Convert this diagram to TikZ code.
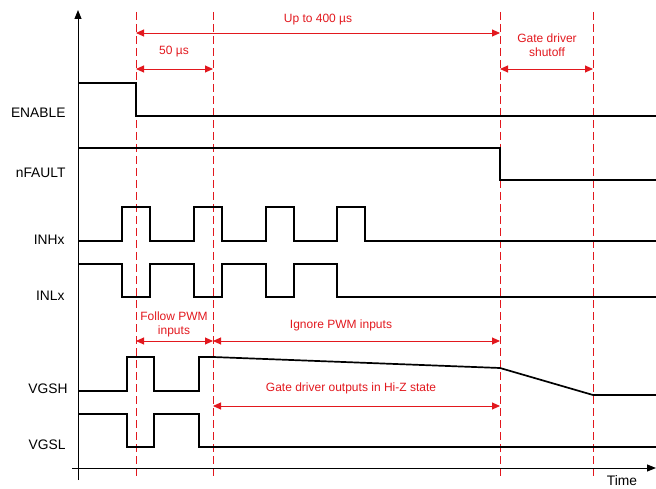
\documentclass[tikz,border=0pt]{standalone}
\usepackage{fontspec}
\setmainfont{Liberation Sans}
\usetikzlibrary{arrows.meta}
\definecolor{tired}{RGB}{226,24,30}
\tikzset{
  sig/.style  ={line width=1.7pt, black},
  axis/.style ={-{Triangle[length=9pt, width=7pt]}, line width=1pt, black},
  tline/.style={tired, line width=0.9pt, dash pattern=on 8pt off 4pt},
  span/.style ={{Triangle[length=8pt, width=7pt]}-{Triangle[length=8pt, width=7pt]}, tired, line width=0.9pt},
  lab/.style  ={anchor=east, font=\fontsize{13.8}{16}\selectfont},
  note/.style ={text=tired, align=center, font=\fontsize{12}{14}\selectfont, inner sep=1pt},
}

\begin{document}
\begin{tikzpicture}[x=1pt, y=-1pt]
  \useasboundingbox (0,0) rectangle (656,489);
  % time marks
  \foreach \n/\x in {ta/136, tb/213, tc/500, td/593} {
    \coordinate (\n) at (\x,0);
  }
  \foreach \n in {ta,tb,tc,td}
    \draw[tline] (\n |- 0,12) -- (\n |- 0,476);
  % axes
  \draw[axis] (78,480) -- (78,10);
  \draw[axis] (72,468) -- (656,468);
  \node[font=\fontsize{13.8}{16}\selectfont, inner sep=1pt] (time) at (622,481) {Time};
  % labels
  \node[lab] (en)  at (69,113) {ENABLE};
  \node[lab] (nf)  at (69,173) {nFAULT};
  \node[lab] (inh) at (68,240) {INHx};
  \node[lab] (inl) at (68,296) {INLx};
  \node[lab] (vh)  at (71,389) {VGSH};
  \node[lab] (vl)  at (69,445) {VGSL};
  % waveforms
  \draw[sig] (78,83) -- (136,83) -- (136,116) -- (656,116);
  \draw[sig] (78,148) -- (500,148) -- (500,180) -- (656,180);
  \draw[sig] (78,241) foreach \a in {122,194,266,337} {
      -- (\a,241) -- (\a,207) -- ({\a+28},207) -- ({\a+28},241)} -- (656,241);
  \draw[sig] (78,264) foreach \a in {122,194,266} {
      -- (\a,264) -- (\a,297) -- ({\a+28},297) -- ({\a+28},264)}
      -- (337,264) -- (337,297) -- (656,297);
  \draw[sig] (78,391) -- (127,391) -- (127,357) -- (154,357) -- (154,391)
      -- (199,391) -- (199,357) -- (213,357) -- (500,368) -- (593,395) -- (656,395);
  \draw[sig] (78,414) -- (127,414) -- (127,447) -- (154,447) -- (154,414)
      -- (199,414) -- (199,447) -- (656,447);
  % spans
  \coordinate (a1) at (ta |- 0,33);  \coordinate (c1) at (tc |- 0,33);
  \coordinate (a2) at (ta |- 0,69);  \coordinate (b2) at (tb |- 0,69);
  \coordinate (c2) at (tc |- 0,69);  \coordinate (d2) at (td |- 0,69);
  \coordinate (a3) at (ta |- 0,341); \coordinate (b3) at (tb |- 0,341);
  \coordinate (c3) at (tc |- 0,341);
  \coordinate (b4) at (tb |- 0,406); \coordinate (c4) at (tc |- 0,406);
  \draw[span] (a1) -- (c1);
  \draw[span] (a2) -- (b2);
  \draw[span] (c2) -- (d2);
  \draw[span] (a3) -- (b3);
  \draw[span] (b3) -- (c3);
  \draw[span] (b4) -- (c4);
  \node[note] (upto)   at (318,20)  {Up to 400 µs};
  \node[note] (fifty)  at (174,52)  {50 µs};
  \node[note] (shut)   at (547,45)  {Gate driver\\shutoff};
  \node[note] (follow) at (174,324) {Follow PWM\\inputs};
  \node[note] (ignore) at (341,325) {Ignore PWM inputs};
  \node[note] (hiz)    at (351,388) {Gate driver outputs in Hi-Z state};
\end{tikzpicture}
\end{document}
